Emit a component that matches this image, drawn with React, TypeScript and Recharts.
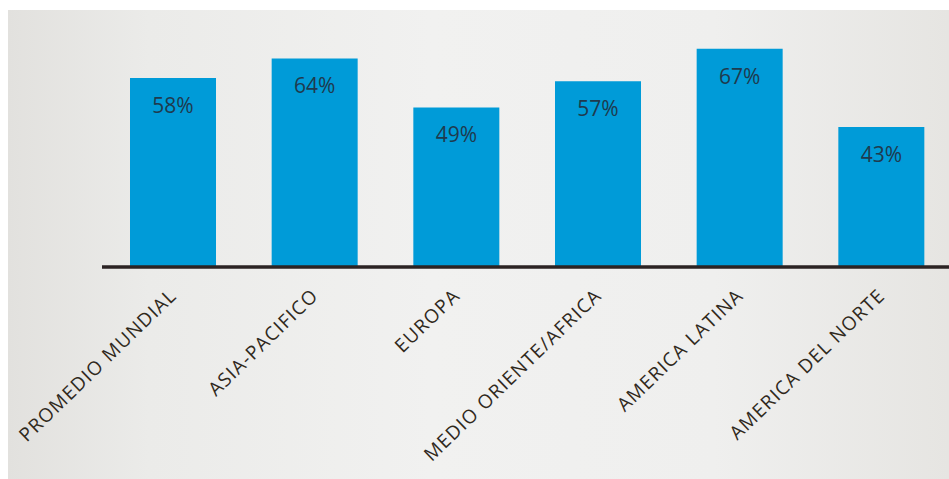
import React from "react";
import { BarChart, Bar, XAxis, YAxis, LabelList } from "recharts";

const categories = [
  "PROMEDIO MUNDIAL",
  "ASIA-PACIFICO",
  "EUROPA",
  "MEDIO ORIENTE/AFRICA",
  "AMERICA LATINA",
  "AMERICA DEL NORTE",
];
const values = [58, 64, 49, 57, 67, 43];

const data = categories.map((name, i) => ({ name, value: values[i] }));

const AxisTick = (props: any) => {
  const { x, y, payload } = props;
  return (
    <g transform={`translate(${x + 5},${y + 30})`}>
      <text
        transform="rotate(-44)"
        textAnchor="end"
        fill="#30291c"
        fontFamily="'Open Sans', sans-serif"
        fontSize={19}
        letterSpacing={1.2}
      >
        {payload.value}
      </text>
    </g>
  );
};

export default function App() {
  return (
    <div
      style={{
        position: "fixed",
        left: 8,
        top: 10,
        width: 941,
        height: 469,
        overflow: "hidden",
        background:
          "linear-gradient(to right, #e2e1de 0%, #ebebe9 15%, #f1f1f0 45%, #efefee 75%, #e6e5e2 100%)",
      }}
    >
      <BarChart
        width={944}
        height={469}
        data={data}
        margin={{ top: 29, right: 0, left: 94, bottom: 0 }}
        barCategoryGap="19.6%"
      >
        <YAxis hide domain={[0, 70]} />
        <XAxis
          dataKey="name"
          height={212}
          interval={0}
          tickLine={false}
          tickSize={0}
          tickMargin={0}
          axisLine={{ stroke: "#2b2323", strokeWidth: 3.5 }}
          tick={<AxisTick />}
        />
        <Bar dataKey="value" fill="#009bd8" barSize={86} isAnimationActive={false}>
          <LabelList
            dataKey="value"
            position="insideTop"
            offset={20}
            formatter={(v: any) => `${v}%`}
            fill="#1f3a4e"
            fontFamily="'Open Sans', sans-serif"
            fontSize={21}
          />
        </Bar>
      </BarChart>
    </div>
  );
}
